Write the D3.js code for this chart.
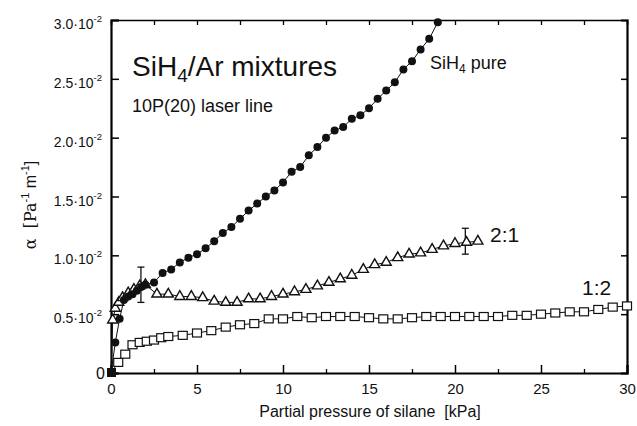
<!DOCTYPE html>
<html><head><meta charset="utf-8">
<script src="https://cdn.jsdelivr.net/npm/d3@7"></script>
<style>
html,body{margin:0;padding:0;background:#fff;}
svg{display:block;}
text{font-family:"Liberation Sans",Arial,sans-serif;fill:#111;}
</style></head>
<body><svg id="c" width="637" height="426"></svg>
<script>
// values of alpha in units of 1e-2 Pa^-1 m^-1, pressures in kPa
const pureX = [0,0.25,0.5,0.75,1.0,1.25,1.5,1.75,2.0,2.5,3.0,3.5,4.0,4.5,5.0,5.5,6.0,6.5,7.0,7.5,8.0,8.5,9.0,9.5,10.0,10.5,11.0,11.5,12.0,12.5,13.0,13.5,14.0,14.5,15.0,15.5,16.0,16.5,17.0,17.5,18.0,18.5,19.0];
const pureY = [0,0.26,0.46,0.62,0.65,0.67,0.70,0.73,0.75,0.77,0.85,0.88,0.94,0.98,1.01,1.06,1.12,1.19,1.24,1.31,1.38,1.44,1.50,1.55,1.62,1.71,1.75,1.85,1.92,2.00,2.06,2.09,2.16,2.19,2.25,2.33,2.40,2.47,2.58,2.65,2.75,2.84,2.98];

const r21X = [0,0.1,0.25,0.45,0.67,1.0,1.33,1.67,2.0,2.67,3.33,4.0,4.67,5.33,6.0,6.67,7.33,8.0,8.67,9.33,10,10.67,11.33,12,12.67,13.33,14,14.67,15.33,16,16.67,17.33,18,18.67,19.33,20,20.67,21.33];
const r21Y = [0,0.45,0.55,0.60,0.64,0.68,0.71,0.74,0.75,0.67,0.67,0.65,0.65,0.64,0.61,0.60,0.60,0.63,0.63,0.65,0.67,0.69,0.71,0.74,0.77,0.80,0.83,0.88,0.92,0.94,0.98,1.01,1.02,1.05,1.08,1.10,1.11,1.12];

const r12X = [0,0.42,0.83,1.25,1.67,2.08,2.5,2.92,3.33,4.17,5.0,5.83,6.67,7.5,8.33,9.17,10,10.83,11.67,12.5,13.33,14.17,15,15.83,16.67,17.5,18.33,19.17,20,20.83,21.67,22.5,23.33,24.17,25,25.83,26.67,27.5,28.33,29.17,30];
const r12Y = [0,0.09,0.16,0.24,0.26,0.27,0.28,0.30,0.31,0.32,0.34,0.36,0.39,0.41,0.42,0.46,0.46,0.48,0.47,0.48,0.48,0.48,0.47,0.46,0.46,0.47,0.48,0.48,0.48,0.48,0.48,0.48,0.49,0.49,0.50,0.51,0.52,0.52,0.54,0.56,0.57];

// error bars: [x, low, high]
const errX = [1.74, 20.6];
const errLo = [0.60, 1.01];
const errHi = [0.90, 1.23];

const xTicks = [0,5,10,15,20,25,30];
const yTicks = [0,0.5,1.0,1.5,2.0,2.5,3.0];
const yTickText = ["0","0.5","1.0","1.5","2.0","2.5","3.0"];

const svg = d3.select("#c");
const x = d3.scaleLinear().domain([0,30]).range([111,627]);
const y = d3.scaleLinear().domain([0,3.0]).range([373,20]);

// axes frame
const g = svg.append("g");
g.append("g").attr("transform","translate(0,373)")
 .call(d3.axisBottom(x).tickValues(xTicks).tickSize(-8).tickPadding(12).tickFormat(d3.format("d")))
 .call(a=>{a.select(".domain").attr("stroke-width",2.2);
   a.selectAll(".tick line").attr("stroke-width",1.5);
   a.selectAll(".tick text").attr("font-size",15).attr("dy","0.6em");});
g.append("g").attr("transform","translate(0,373)")
 .call(d3.axisBottom(x).tickValues(d3.range(2.5,30,5)).tickSize(-4).tickFormat(""))
 .call(a=>{a.select(".domain").remove();a.selectAll(".tick line").attr("stroke-width",1.3);});
g.append("g").attr("transform","translate(0,20)")
 .call(d3.axisTop(x).tickValues(d3.range(2.5,30,2.5)).tickSize(-5).tickFormat(""))
 .call(a=>{a.select(".domain").attr("stroke-width",1.6);a.selectAll(".tick line").attr("stroke-width",1.3);});
g.append("g").attr("transform","translate(111,0)")
 .call(d3.axisLeft(y).tickValues(yTicks).tickSize(-8).tickFormat(""))
 .call(a=>{a.select(".domain").attr("stroke-width",2.2);a.selectAll(".tick line").attr("stroke-width",1.5);});
g.append("g").attr("transform","translate(627,0)")
 .call(d3.axisRight(y).tickValues(yTicks.slice(1,6)).tickSize(-6).tickFormat(""))
 .call(a=>{a.select(".domain").attr("stroke-width",2.2);a.selectAll(".tick line").attr("stroke-width",1.5);});

// y tick labels
yTicks.forEach((v,i)=>{
  if(v===0){
    svg.append("text").attr("x",105).attr("y",y(v)+6).attr("text-anchor","end").attr("font-size",16).text("0");
  } else {
    const t = svg.append("text").attr("x",102).attr("y",y(v)+9).attr("text-anchor","end").attr("font-size",14);
    t.append("tspan").text(yTickText[i]+"\u00b710");
    t.append("tspan").attr("font-size",9.5).attr("dy",-7).text("-2");
  }
});

// axis titles
svg.append("text").attr("x",370).attr("y",417).attr("text-anchor","middle").attr("font-size",16)
  .text("Partial pressure of silane\u00a0\u00a0[kPa]");
const yl = svg.append("text").attr("transform","translate(36,205) rotate(-90)").attr("text-anchor","middle").attr("font-size",16);
yl.append("tspan").attr("font-family","DejaVu Serif, serif").text("\u03b1\u00a0\u00a0[Pa");
yl.append("tspan").attr("font-size",11).attr("dy",-7).text("-1");
yl.append("tspan").attr("dy",7).text("\u00a0m");
yl.append("tspan").attr("font-size",11).attr("dy",-7).text("-1");
yl.append("tspan").attr("dy",7).text("]");

// annotations
const t1 = svg.append("text").attr("x",132).attr("y",76).attr("font-size",28);
t1.append("tspan").text("SiH");
t1.append("tspan").attr("font-size",19).attr("dy",6).text("4");
t1.append("tspan").attr("dy",-6).text("/Ar mixtures");
svg.append("text").attr("x",132).attr("y",112).attr("font-size",18).text("10P(20) laser line");
const t2 = svg.append("text").attr("x",430).attr("y",69).attr("font-size",18);
t2.append("tspan").text("SiH");
t2.append("tspan").attr("font-size",12).attr("dy",4).text("4");
t2.append("tspan").attr("dy",-4).text(" pure");
svg.append("text").attr("x",490).attr("y",242).attr("font-size",21).attr("font-family","Liberation Serif, serif").text("2:1");
svg.append("text").attr("x",582).attr("y",295).attr("font-size",21).attr("font-family","Liberation Serif, serif").text("1:2");

// series
const line = d3.line().x(d=>x(d[0])).y(d=>y(d[1]));
const pure = pureX.map((v,i)=>[v,pureY[i]]);
const r21 = r21X.map((v,i)=>[v,r21Y[i]]);
const r12 = r12X.map((v,i)=>[v,r12Y[i]]);

[r12,r21,pure].forEach(s=>{
  svg.append("path").datum(s).attr("d",line).attr("fill","none").attr("stroke","#111").attr("stroke-width",1);
});

// error bars
errX.forEach((v,i)=>{
  const gx = x(v);
  svg.append("line").attr("x1",gx).attr("x2",gx).attr("y1",y(errLo[i])).attr("y2",y(errHi[i])).attr("stroke","#111").attr("stroke-width",1.3);
  [errLo[i],errHi[i]].forEach(e=>svg.append("line").attr("x1",gx-3.5).attr("x2",gx+3.5).attr("y1",y(e)).attr("y2",y(e)).attr("stroke","#111").attr("stroke-width",1.3));
});

// markers
svg.append("g").selectAll("rect").data(r12.slice(1)).join("rect")
  .attr("x",d=>x(d[0])-4.5).attr("y",d=>y(d[1])-4).attr("width",9).attr("height",8)
  .attr("fill","#fff").attr("stroke","#111").attr("stroke-width",1.2);
const tri = d3.symbol().type(d3.symbolTriangle).size(44);
svg.append("g").selectAll("path").data(r21.slice(1)).join("path")
  .attr("transform",d=>`translate(${x(d[0])},${y(d[1])})`).attr("d",tri)
  .attr("fill","#fff").attr("stroke","#111").attr("stroke-width",1.4);
svg.append("g").selectAll("circle").data(pure.slice(1)).join("circle")
  .attr("cx",d=>x(d[0])).attr("cy",d=>y(d[1])).attr("r",4).attr("fill","#111");
// overlapping markers at origin
svg.append("rect").attr("x",x(0)-4).attr("y",y(0)-5).attr("width",9).attr("height",9).attr("fill","#111");
</script></body></html>
